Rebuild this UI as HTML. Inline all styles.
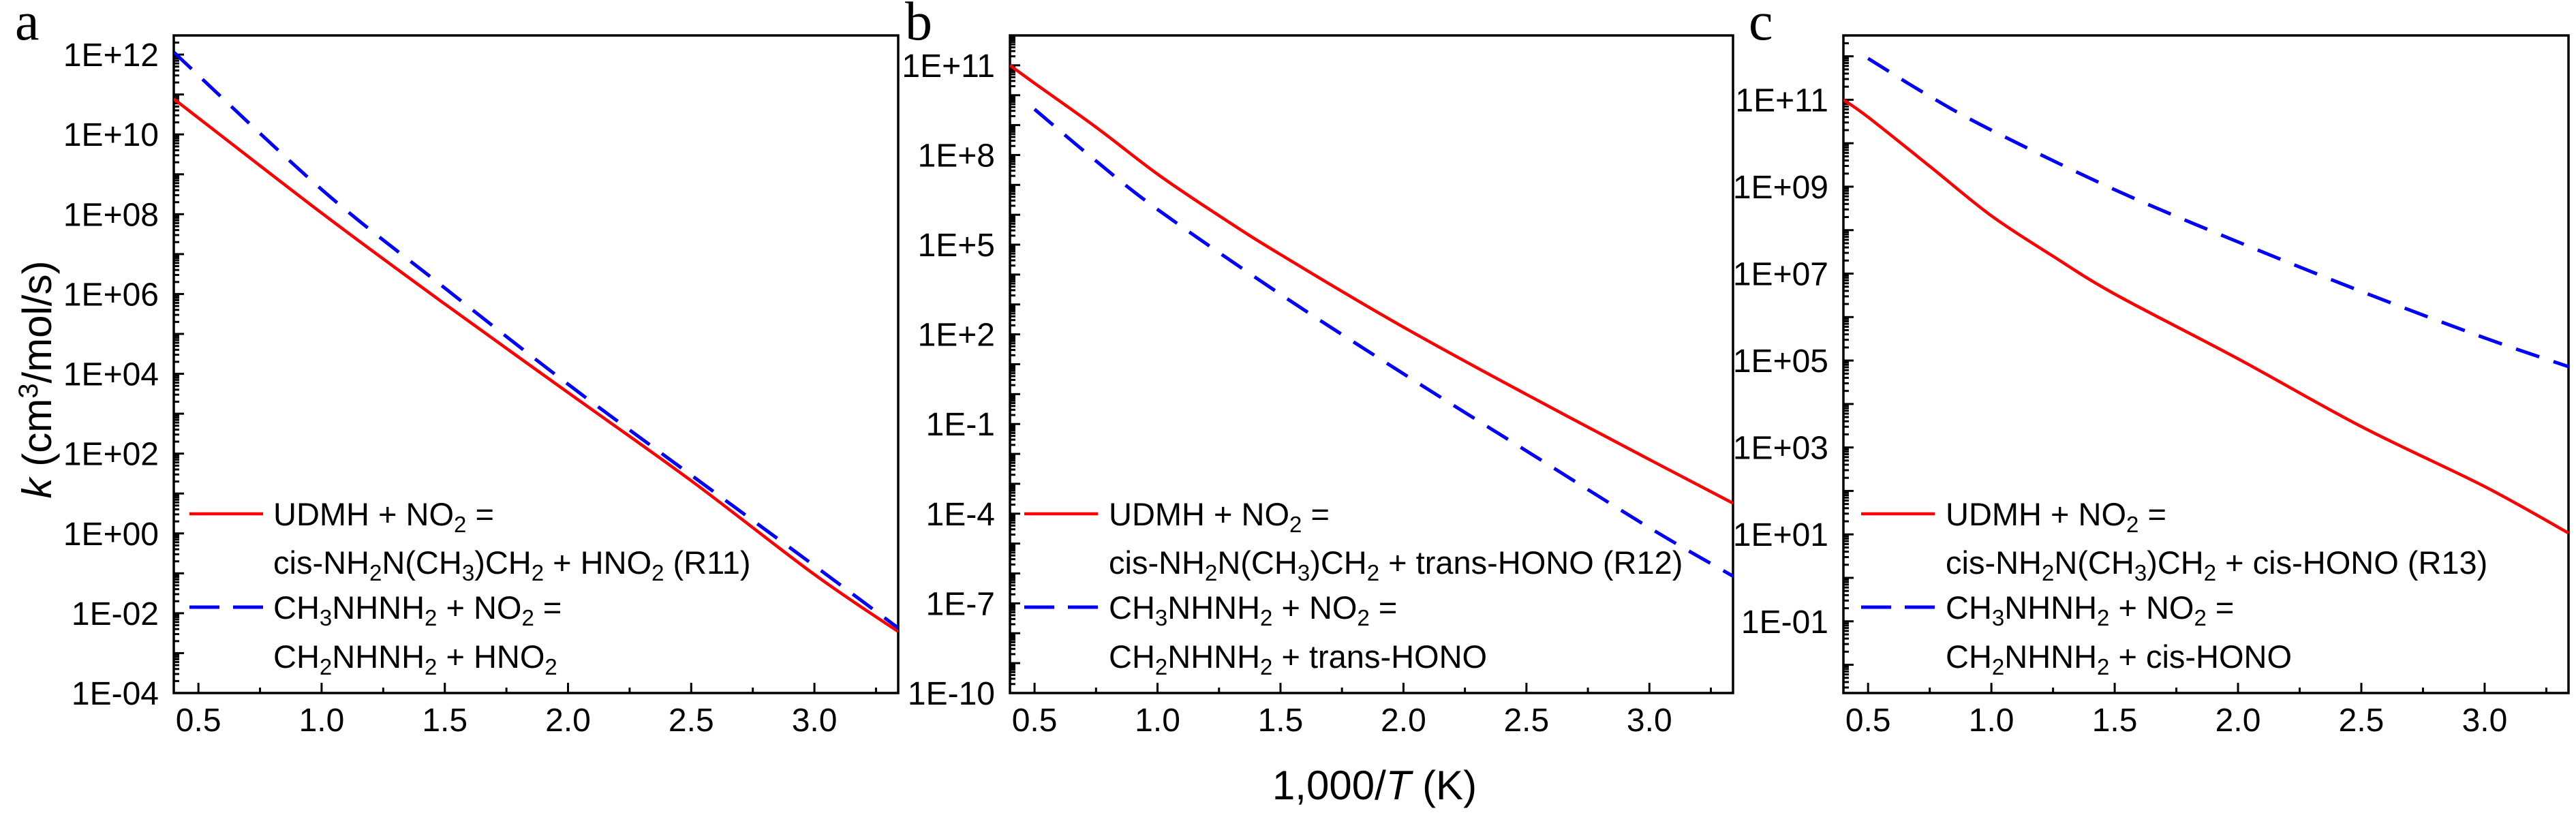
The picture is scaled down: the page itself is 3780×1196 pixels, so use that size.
<!DOCTYPE html>
<html><head><meta charset="utf-8">
<style>
html,body{margin:0;padding:0;background:#fff;}
svg{display:block;font-family:"Liberation Sans",Arial,sans-serif;}
</style></head>
<body>
<svg id="fig" width="3780" height="1196" viewBox="0 0 3780 1196" xmlns="http://www.w3.org/2000/svg">
</svg>
<script>
// ---- data (x = 1000/T, y = log10 k) ----
const xA = [0.4, 1.0, 1.5, 2.0, 2.5, 3.0, 3.34];
const aRed = [10.89, 8.03, 5.75, 3.53, 1.32, -1.03, -2.46];
const aBlueX = [0.4, 1.0, 1.5, 2.0, 2.5, 3.0, 3.34];
const aBlue = [12.06, 8.62, 6.15, 3.74, 1.46, -0.81, -2.37];

const bRedX = [0.4, 0.5, 0.75, 1.0, 1.25, 1.5, 2.0, 2.5, 3.0, 3.34];
const bRed = [11.0, 10.4, 8.93, 7.36, 5.97, 4.67, 2.24, -0.01, -2.19, -3.65];
const bBlueX = [0.5, 0.75, 1.0, 1.5, 2.0, 2.5, 3.0, 3.34];
const bBlue = [9.53, 7.8, 6.18, 3.34, 0.68, -1.9, -4.47, -6.09];

const cRedX = [0.4, 0.5, 0.75, 1.0, 1.25, 1.5, 2.0, 2.5, 3.0, 3.34];
const cRed = [11.0, 10.6, 9.47, 8.33, 7.4, 6.53, 5.04, 3.48, 2.1, 1.03];
const cBlueX = [0.5, 0.75, 1.0, 1.5, 2.0, 2.5, 3.0, 3.34];
const cBlue = [11.95, 11.08, 10.3, 8.93, 7.73, 6.59, 5.52, 4.86];

const xTicks = [0.5, 1.0, 1.5, 2.0, 2.5, 3.0];
const xTickLabels = ["0.5", "1.0", "1.5", "2.0", "2.5", "3.0"];
const aYTicks = [12, 10, 8, 6, 4, 2, 0, -2, -4];
const aYLabels = ["1E+12","1E+10","1E+08","1E+06","1E+04","1E+02","1E+00","1E-02","1E-04"];
const bYTicks = [11, 8, 5, 2, -1, -4, -7, -10];
const bYLabels = ["1E+11","1E+8","1E+5","1E+2","1E-1","1E-4","1E-7","1E-10"];
const cYTicks = [11, 9, 7, 5, 3, 1, -1];
const cYLabels = ["1E+11","1E+09","1E+07","1E+05","1E+03","1E+01","1E-01"];

const NS = "http://www.w3.org/2000/svg";
const svg = document.getElementById("fig");
const TOP = 52, BOT = 1017, XMIN = 0.4, XMAX = 3.34;

function mk(tag, attrs, parent){
  const e = document.createElementNS(NS, tag);
  for (const k in attrs) e.setAttribute(k, attrs[k]);
  (parent || svg).appendChild(e);
  return e;
}

function smoothPath(pts){
  let d = "M" + pts[0][0].toFixed(1) + "," + pts[0][1].toFixed(1);
  for (let i = 0; i < pts.length - 1; i++){
    const p0 = pts[Math.max(0, i - 1)], p1 = pts[i], p2 = pts[i + 1], p3 = pts[Math.min(pts.length - 1, i + 2)];
    const c1x = p1[0] + (p2[0] - p0[0]) / 6, c1y = p1[1] + (p2[1] - p0[1]) / 6;
    const c2x = p2[0] - (p3[0] - p1[0]) / 6, c2y = p2[1] - (p3[1] - p1[1]) / 6;
    d += " C" + c1x.toFixed(1) + "," + c1y.toFixed(1) + " " + c2x.toFixed(1) + "," + c2y.toFixed(1) + " " + p2[0].toFixed(1) + "," + p2[1].toFixed(1);
  }
  return d;
}

function panel(cfg){
  const g = mk("g", {});
  
  
  const sx = v => cfg.L + (v - XMIN) / (XMAX - XMIN) * (cfg.R - cfg.L);
  const sy = v => BOT - (v - cfg.ymin) / (cfg.ymax - cfg.ymin) * (BOT - TOP);

  const cp = mk("clipPath", {id: "clip" + cfg.id}, g);
  mk("rect", {x: cfg.L, y: TOP, width: cfg.R - cfg.L, height: BOT - TOP}, cp);

  const tg = mk("g", {stroke: "#000", "stroke-width": 3}, g);
  
  
  for (let d = Math.floor(cfg.ymin); d <= Math.ceil(cfg.ymax); d++){
    for (let m = 1; m <= 9; m++){
      const v = d + Math.log10(m);
      if (v < cfg.ymin - 1e-6 || v > cfg.ymax + 1e-6) continue;
      const len = m === 1 ? 15 : 8;
      const y = sy(v);
      mk("line", {x1: cfg.L, x2: cfg.L + len, y1: y, y2: y}, tg);
    }
  }
  for (let v = 0.5; v <= XMAX + 1e-6; v += 0.25){
    const major = Math.abs(v * 2 - Math.round(v * 2)) < 1e-6;
    const x = sx(v);
    mk("line", {x1: x, x2: x, y1: BOT, y2: BOT - (major ? 15 : 8)}, tg);
  }
  const fr = mk("rect", {x: cfg.L, y: TOP, width: cfg.R - cfg.L, height: BOT - TOP, fill: "none", stroke: "#000", "stroke-width": 3.5}, g);
  
  

  cfg.yt.forEach((v, i) => {
    const t = mk("text", {x: cfg.L - 22, y: sy(v) + 17, "text-anchor": "end", "font-size": 48, fill: "#000"}, g);
    t.textContent = cfg.yl[i];
    
    
  });
  xTicks.forEach((v, i) => {
    const t = mk("text", {x: sx(v), y: 1073, "text-anchor": "middle", "font-size": 48, fill: "#000"}, g);
    t.textContent = xTickLabels[i];
    
    
  });

  const line = (xs, ys, color, dash, name) => {
    const pts = xs.map((x, i) => [sx(x), sy(ys[i])]);
    const p = mk("path", {d: smoothPath(pts), fill: "none", stroke: color, "stroke-width": dash ? 5 : 4.5, "clip-path": "url(#clip" + cfg.id + ")"}, g);
    if (dash) p.setAttribute("stroke-dasharray", "36 22");
    
    
  };
  line(cfg.rx, cfg.ry, "#f00", false, 'udmh-series-' + cfg.id);
  line(cfg.bx, cfg.by, "#00f", true, 'ch3nhnh2-series-' + cfg.id);

  const lg = mk("g", {"font-size": 47, fill: "#000"}, g);
  
  
  mk("line", {x1: cfg.lx, x2: cfg.lx + 108, y1: 754, y2: 754, stroke: "#f00", "stroke-width": 4.5}, lg);
  mk("line", {x1: cfg.lx, x2: cfg.lx + 108, y1: 891, y2: 891, stroke: "#00f", "stroke-width": 5, "stroke-dasharray": "44 20"}, lg);
  const rows = [771, 842, 908, 980];
  cfg.legend.forEach((html, i) => {
    const t = mk("text", {x: cfg.tx, y: rows[i]}, lg);
    t.innerHTML = html;
    
    
  });
  const pl = mk("text", {x: cfg.px, y: 58, "font-family": "Liberation Serif, serif", "font-size": 80, fill: "#000"}, g);
  pl.textContent = cfg.id;
  
  
}
const sub = s => '<tspan dy="10" font-size="33">' + s + '</tspan><tspan dy="-10">';
const end = '</tspan>';

panel({id: "a", L: 255, R: 1318, ymin: -4, ymax: 12.48, yt: aYTicks, yl: aYLabels,
  rx: xA, ry: aRed, bx: aBlueX, by: aBlue, lx: 278, tx: 401, px: 22,
  legend: [
    'UDMH + NO' + sub('2') + ' =' + end,
    'cis-NH' + sub('2') + 'N(CH' + end + sub('3') + ')CH' + end + sub('2') + ' + HNO' + end + sub('2') + ' (R11)' + end,
    'CH' + sub('3') + 'NHNH' + end + sub('2') + ' + NO' + end + sub('2') + ' =' + end,
    'CH' + sub('2') + 'NHNH' + end + sub('2') + ' + HNO' + end + sub('2') + end
  ]});
panel({id: "b", L: 1482, R: 2543, ymin: -10, ymax: 12, yt: bYTicks, yl: bYLabels,
  rx: bRedX, ry: bRed, bx: bBlueX, by: bBlue, lx: 1503, tx: 1627, px: 1328,
  legend: [
    'UDMH + NO' + sub('2') + ' =' + end,
    'cis-NH' + sub('2') + 'N(CH' + end + sub('3') + ')CH' + end + sub('2') + ' + trans-HONO (R12)' + end,
    'CH' + sub('3') + 'NHNH' + end + sub('2') + ' + NO' + end + sub('2') + ' =' + end,
    'CH' + sub('2') + 'NHNH' + end + sub('2') + ' + trans-HONO' + end
  ]});
panel({id: "c", L: 2705, R: 3769, ymin: -2.65, ymax: 12.48, yt: cYTicks, yl: cYLabels,
  rx: cRedX, ry: cRed, bx: cBlueX, by: cBlue, lx: 2731, tx: 2855, px: 2566,
  legend: [
    'UDMH + NO' + sub('2') + ' =' + end,
    'cis-NH' + sub('2') + 'N(CH' + end + sub('3') + ')CH' + end + sub('2') + ' + cis-HONO (R13)' + end,
    'CH' + sub('3') + 'NHNH' + end + sub('2') + ' + NO' + end + sub('2') + ' =' + end,
    'CH' + sub('2') + 'NHNH' + end + sub('2') + ' + cis-HONO' + end
  ]});

const yt = mk("text", {x: 0, y: 0, "font-size": 60, "text-anchor": "middle", transform: "translate(75,557) rotate(-90)"});
yt.innerHTML = '<tspan font-style="italic">k</tspan> (cm<tspan dy="-20" font-size="40">3</tspan><tspan dy="20">/mol/s)</tspan>';


const xt = mk("text", {x: 2017, y: 1173, "font-size": 60, "text-anchor": "middle"});
xt.innerHTML = '1,000/<tspan font-style="italic">T</tspan> (K)';


</script>
</body></html>
